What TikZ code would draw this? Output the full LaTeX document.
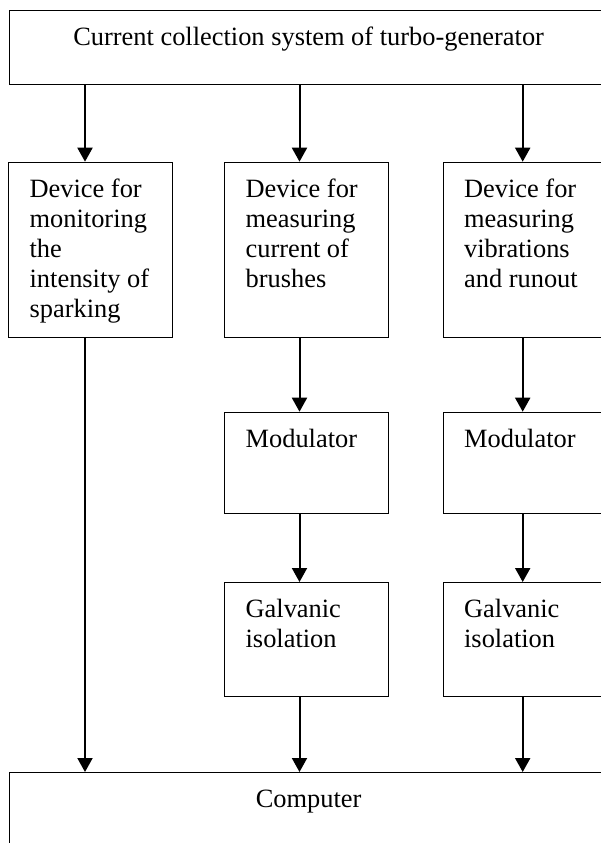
\documentclass[tikz,border=0pt]{standalone}
\usepackage{fontspec}
\setmainfont{Liberation Serif}
\usetikzlibrary{arrows.meta}
\newcommand\lboxtext[3]{\parbox[c][#2pt][t]{#1pt}{\fontsize{26.4}{30}\selectfont\raggedright\leftskip=21pt\relax\rule{0pt}{35pt}#3}}
\newcommand\cboxtext[3]{\parbox[c][#2pt][t]{#1pt}{\fontsize{26.4}{30}\selectfont\centering\rule{0pt}{35pt}#3}}
\tikzset{
  blk/.style={draw, line width=1.3pt, rectangle, inner sep=0pt, anchor=north west},
  arr/.style={line width=2pt, -{Triangle[width=15pt,length=14pt]}}
}
\begin{document}
\begin{tikzpicture}[x=1pt,y=-1pt]
\useasboundingbox (0,0) rectangle (601,843);
\node[blk] (top) at (9,10) {\cboxtext{598}{74}{Current collection system of turbo-generator}};
\node[blk] (b1) at (8,161.7) {\lboxtext{164}{175.3}{Device for\\monitoring\\the\\intensity of\\sparking}};
\node[blk] (b2) at (224,161.7) {\lboxtext{163.5}{175.3}{Device for\\measuring\\current of\\brushes}};
\node[blk] (b3) at (442.5,161.7) {\lboxtext{163.5}{175.3}{Device for\\measuring\\vibrations\\and runout}};
\node[blk] (m2) at (224,411.7) {\lboxtext{163.5}{101.3}{Modulator}};
\node[blk] (m3) at (442.5,411.7) {\lboxtext{163.5}{101.3}{Modulator}};
\node[blk] (g2) at (224,582) {\lboxtext{163.5}{114}{Galvanic\\isolation}};
\node[blk] (g3) at (442.5,582) {\lboxtext{163.5}{114}{Galvanic\\isolation}};
\node[blk] (comp) at (9,772) {\cboxtext{598}{80}{Computer}};
\coordinate (c1) at (85,0);
\coordinate (c2) at (299.5,0);
\coordinate (c3) at (522.7,0);
\draw[arr] (top.south -| c1) -- (b1.north -| c1);
\draw[arr] (top.south -| c2) -- (b2.north -| c2);
\draw[arr] (top.south -| c3) -- (b3.north -| c3);
\draw[arr] (b2.south -| c2) -- (m2.north -| c2);
\draw[arr] (b3.south -| c3) -- (m3.north -| c3);
\draw[arr] (m2.south -| c2) -- (g2.north -| c2);
\draw[arr] (m3.south -| c3) -- (g3.north -| c3);
\draw[arr] (b1.south -| c1) -- (comp.north -| c1);
\draw[arr] (g2.south -| c2) -- (comp.north -| c2);
\draw[arr] (g3.south -| c3) -- (comp.north -| c3);
\end{tikzpicture}
\end{document}
